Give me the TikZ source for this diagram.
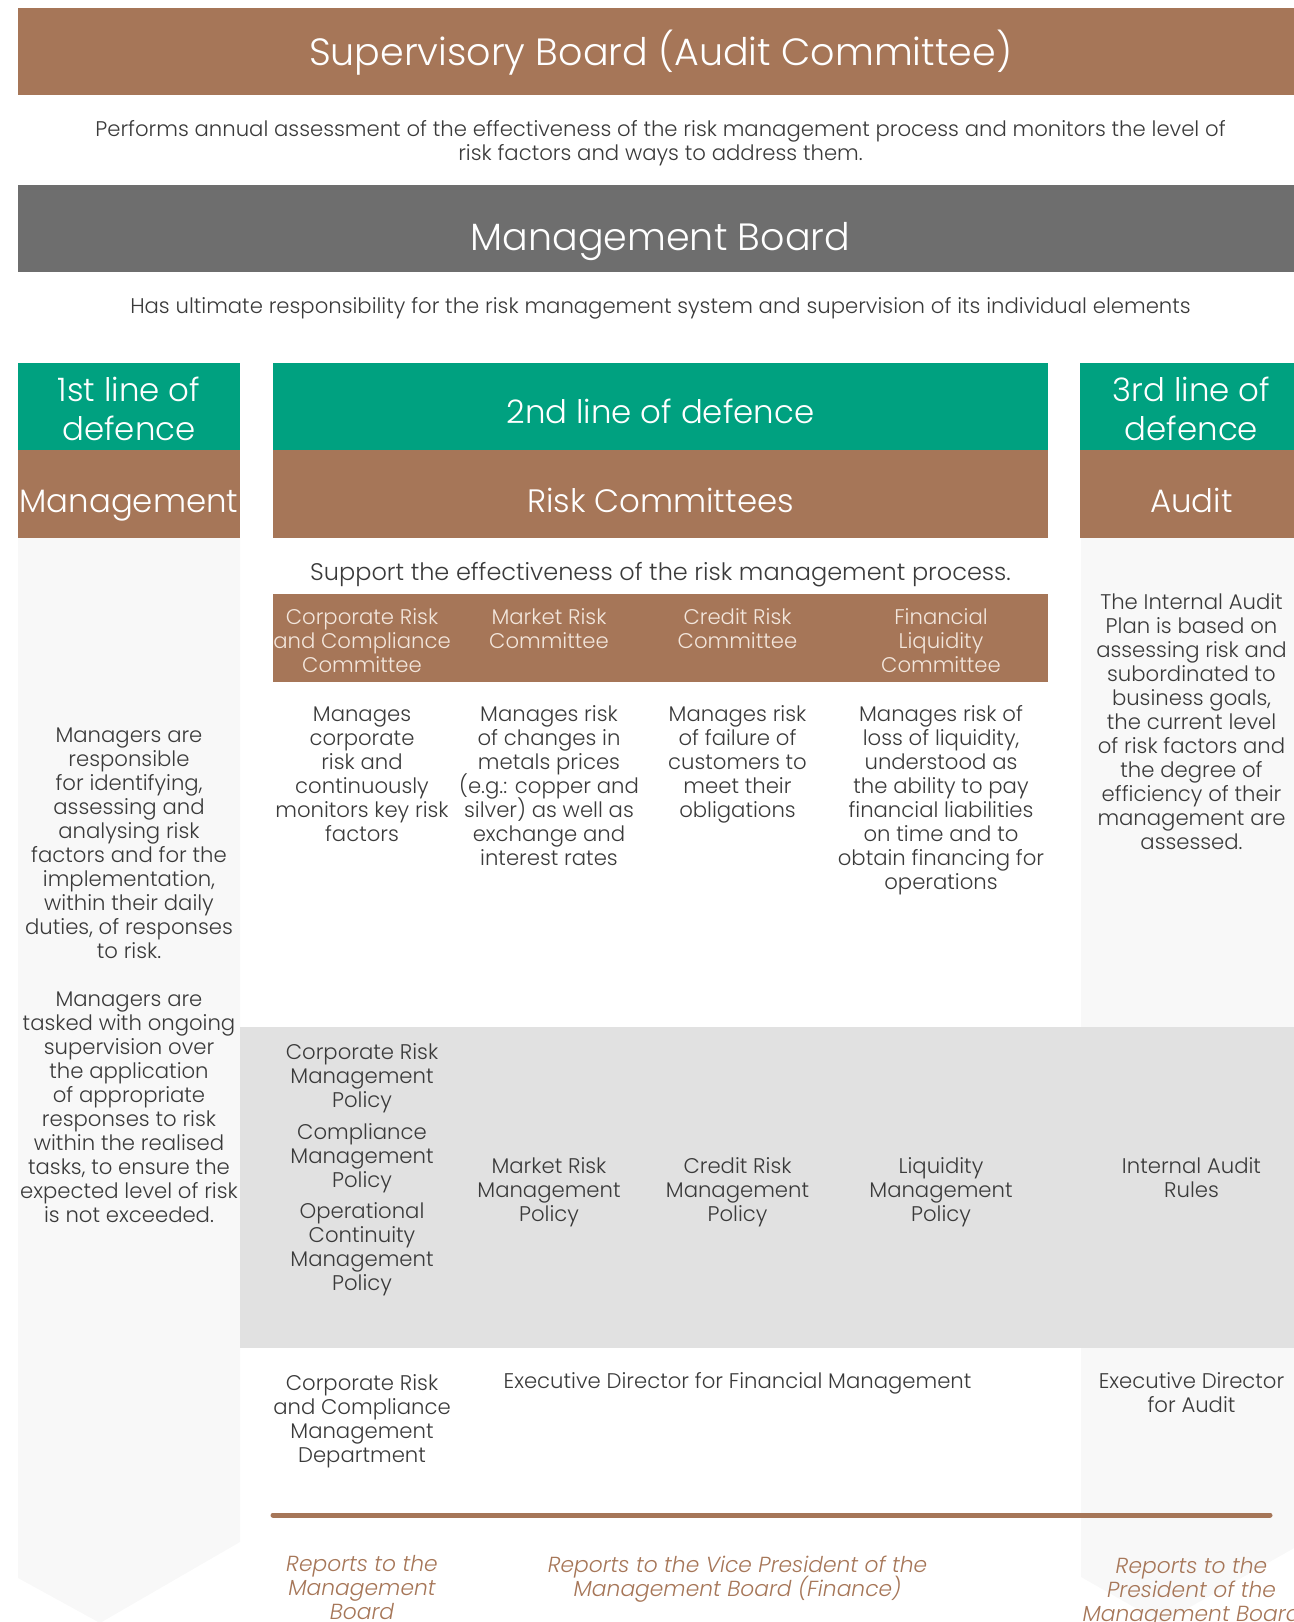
\documentclass[tikz,border=0pt]{standalone}
\usepackage{fontspec}
\setmainfont{Poppins}[UprightFont=* Light, ItalicFont=* Light Italic, BoldFont=*]
\usetikzlibrary{positioning}

\definecolor{bandbrown}{HTML}{A67658}
\definecolor{bandgreen}{HTML}{00A180}
\definecolor{bandgray}{HTML}{6E6E6E}
\definecolor{policybg}{HTML}{E1E1E1}
\definecolor{columnbg}{HTML}{F8F8F8}
\definecolor{bodytext}{HTML}{3A3A3A}
\definecolor{paletext}{HTML}{F3E6DC}
\newcommand{\tightlines}{\lineskiplimit=-20pt\relax}

\begin{document}
\begin{tikzpicture}[
    x=0.5pt, y=-0.5pt,
    band/.style={rectangle, inner sep=0pt, minimum width=642.5pt, minimum height=43.5pt},
    head/.style={rectangle, inner sep=0pt, minimum height=43.75pt},
    bandtext/.style={inner sep=0pt, anchor=base, align=center, text=white, font=\fontsize{19}{23}\selectfont},
    headtext/.style={bandtext, font=\fontsize{16.2}{19.25}\selectfont\tightlines},
    body/.style={inner sep=0pt, anchor=base, align=center, text=bodytext, font=\fontsize{10.6}{12}\selectfont\tightlines},
    subhead/.style={body, text=paletext},
    report/.style={body, text=bandbrown, font=\fontsize{10.9}{12}\selectfont\itshape\tightlines}
]
\useasboundingbox (0,0) rectangle (1294,1622);
\clip (0,0) rectangle (1294,1622);

% Column backgrounds with pointed ends
\fill[columnbg] (18,538) -- (240,538) -- (240,1542) -- (100,1623) -- (18,1578) -- cycle;
\fill[columnbg] (1081,538) -- (1303,538) -- (1303,1543) -- (1162,1623) -- (1081,1577) -- cycle;
\fill[policybg] (240,1027) rectangle (1303,1348);

% Boards (multi-line texts sit on the baseline of their last line)
\node[band, fill=bandbrown] (sup) at (660.5,51.5) {};
\node[bandtext] (suptitle) at (660.5,65) {Supervisory Board (Audit Committee)};
\node[body] (supdesc) at (660.5,160) {Performs annual assessment of the effectiveness of the risk management process and monitors the level of\\risk factors and ways to address them.};
\node[band, fill=bandgray] (mgmt) at (660.5,228.5) {};
\node[bandtext] (mgmttitle) at (660.5,250) {Management Board};
\node[body] (mgmtdesc) at (660.5,313) {Has ultimate responsibility for the risk management system and supervision of its individual elements};

% Lines of defence
\node[head, fill=bandgreen, minimum width=111pt] (first) at (129,406.5) {};
\node[head, fill=bandgreen, minimum width=387.5pt] (second) at (660.5,406.5) {};
\node[head, fill=bandgreen, minimum width=111.5pt] (third) at (1191.5,406.5) {};
\node[head, fill=bandbrown, minimum width=111pt] (mgr) at (129,494) {};
\node[head, fill=bandbrown, minimum width=387.5pt] (risk) at (660.5,494) {};
\node[head, fill=bandbrown, minimum width=111.5pt] (audit) at (1191.5,494) {};
\node[headtext] (firsttext) at (129,440) {1st line of\\defence};
\node[headtext] (secondtext) at (660.5,423) {2nd line of defence};
\node[headtext] (thirdtext) at (1191.5,440) {3rd line of\\defence};
\node[headtext] (mgrtext) at (129,512) {Management};
\node[headtext] (risktext) at (660.5,512) {Risk Committees};
\node[headtext] (audittext) at (1191.5,512) {Audit};

% Risk committees
\node[body, font=\fontsize{12}{14}\selectfont] (support) at (660.5,580) {Support the effectiveness of the risk management process.};
\node[rectangle, fill=bandbrown, inner sep=0pt, minimum width=387.5pt, minimum height=44pt] (cttees) at (660.5,638) {};
\node[subhead] (corpc) at (362,672) {Corporate Risk\\and Compliance\\Committee};
\node[subhead] (marketc) at (549,648) {Market Risk\\Committee};
\node[subhead] (creditc) at (737.5,648) {Credit Risk\\Committee};
\node[subhead] (liqc) at (941,672) {Financial\\Liquidity\\Committee};

% Tasks
\node[body] (corpdesc) at (362,841) {Manages\\corporate\\risk and\\continuously\\monitors key risk\\factors};
\node[body] (marketdesc) at (549,865) {Manages risk\\of changes in\\metals prices\\(e.g.: copper and\\silver) as well as\\exchange and\\interest rates};
\node[body] (creditdesc) at (737.5,817) {Manages risk\\of failure of\\customers to\\meet their\\obligations};
\node[body] (liqdesc) at (941,889) {Manages risk of\\loss of liquidity,\\understood as\\the ability to pay\\financial liabilities\\on time and to\\obtain financing for\\operations};
\node[body] (mgrdesc) at (129,1222) {Managers are\\responsible\\for identifying,\\assessing and\\analysing risk\\factors and for the\\implementation,\\within their daily\\duties, of responses\\to risk.\\[12pt]Managers are\\tasked with ongoing\\supervision over\\the application\\of appropriate\\responses to risk\\within the realised\\tasks, to ensure the\\expected level of risk\\is not exceeded.};
\node[body] (auditdesc) at (1191.5,849) {The Internal Audit\\Plan is based on\\assessing risk and\\subordinated to\\business goals,\\the current level\\of risk factors and\\the degree of\\efficiency of their\\management are\\assessed.};

% Policies
\node[body] (corppol) at (362,1107) {Corporate Risk\\Management\\Policy};
\node[body] (compol) at (362,1187) {Compliance\\Management\\Policy};
\node[body] (oppol) at (362,1290) {Operational\\Continuity\\Management\\Policy};
\node[body] (marketpol) at (549,1221) {Market Risk\\Management\\Policy};
\node[body] (creditpol) at (737.5,1221) {Credit Risk\\Management\\Policy};
\node[body] (liqpol) at (941,1221) {Liquidity\\Management\\Policy};
\node[body] (auditpol) at (1191.5,1197) {Internal Audit\\Rules};

% Owners
\node[body] (corpdept) at (362,1462) {Corporate Risk\\and Compliance\\Management\\Department};
\node[body] (findir) at (737.5,1388) {Executive Director for Financial Management};
\node[body] (auditdir) at (1191.5,1412) {Executive Director\\for Audit};

\coordinate (rulel) at (273,1515);
\coordinate (ruler) at (1270,1515);
\draw[bandbrown, line width=2.5pt, line cap=round] (rulel) -- (ruler);

% Reporting lines
\node[report] (corprep) at (362,1619) {Reports to the\\Management\\Board};
\node[report] (finrep) at (737.5,1596) {Reports to the Vice President of the\\Management Board (Finance)};
\node[report] (auditrep) at (1191.5,1621) {Reports to the\\President of the\\Management Board};

\end{tikzpicture}
\end{document}
